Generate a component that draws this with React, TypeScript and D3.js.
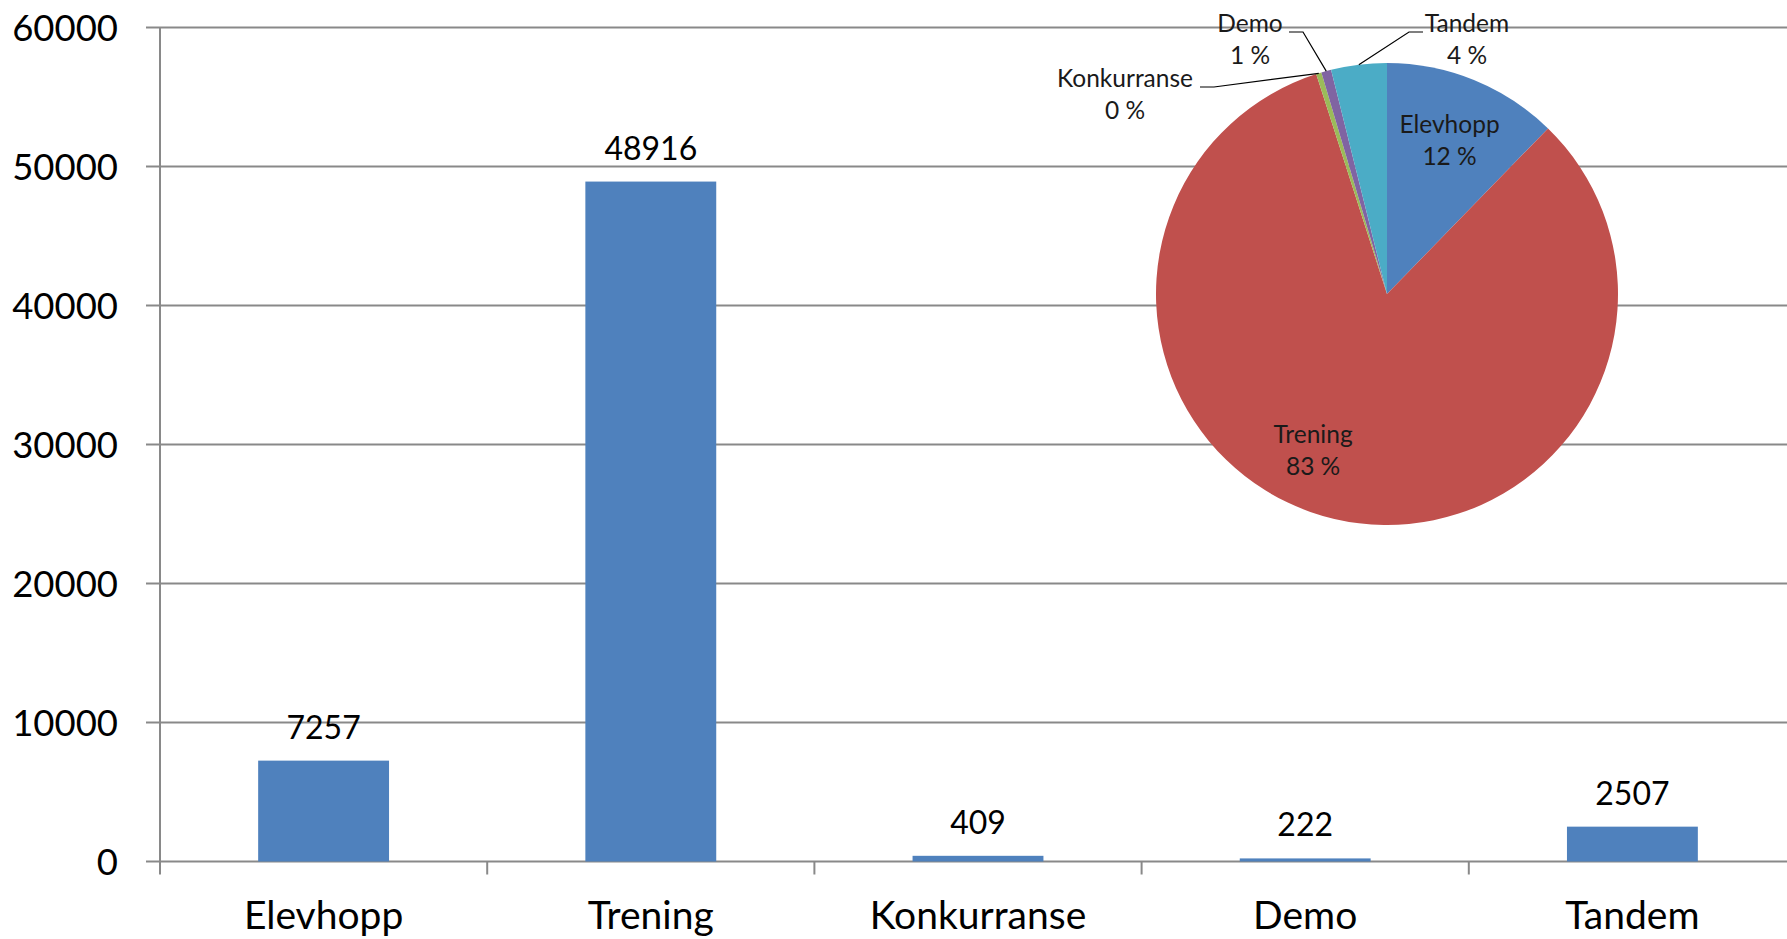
import React, { useEffect, useRef } from 'react'
import * as d3 from 'd3'

// data
const categories = ['Elevhopp', 'Trening', 'Konkurranse', 'Demo', 'Tandem']
const jumps = [7257, 48916, 409, 222, 2507]
const yTicks = [0, 10000, 20000, 30000, 40000, 50000, 60000]
const pieValues = [7257, 48916, 222, 409, 2300]
const pieColors = ['#4F81BD', '#C0504D', '#9BBB59', '#8064A2', '#4BACC6']
const outsideLabels = ['Konkurranse', 'Demo', 'Tandem']

const W = 1787
const H = 939
const FONT = 'Lato, "Open Sans", sans-serif'

const App = () => {
  const ref = useRef<SVGSVGElement | null>(null)

  useEffect(() => {
    document.body.style.margin = '0'
    const svg = d3.select(ref.current)
    svg.selectAll('*').remove()

    const left = 160
    const right = 1796 // plot area runs a little past the window
    const top = 27.5
    const bottom = 861.5

    const x = d3.scaleBand<string>().domain(categories).range([left, right]).paddingInner(0).paddingOuter(0)
    const y = d3.scaleLinear().domain([0, 60000]).range([bottom, top])
    const barW = x.bandwidth() * 0.4

    // gridlines
    svg.append('g')
      .selectAll('line')
      .data(yTicks)
      .join('line')
      .attr('x1', left - 14)
      .attr('x2', W)
      .attr('y1', (d) => y(d))
      .attr('y2', (d) => y(d))
      .attr('stroke', '#898989')
      .attr('stroke-width', 2)

    // y tick labels
    svg.append('g')
      .selectAll('text')
      .data(yTicks)
      .join('text')
      .attr('x', 118)
      .attr('y', (d) => y(d) + 13)
      .attr('text-anchor', 'end')
      .attr('font-family', FONT)
      .attr('font-size', 36.5)
      .attr('fill', '#000')
      .text((d) => d)

    // y axis line + category ticks
    svg.append('line')
      .attr('x1', left).attr('x2', left)
      .attr('y1', top).attr('y2', bottom + 13)
      .attr('stroke', '#898989').attr('stroke-width', 2)

    const bounds = categories.map((c) => x(c) as number)
    svg.append('g')
      .selectAll('line')
      .data(bounds.slice(1))
      .join('line')
      .attr('x1', (d) => d).attr('x2', (d) => d)
      .attr('y1', bottom).attr('y2', bottom + 13)
      .attr('stroke', '#898989').attr('stroke-width', 2)

    // bars
    svg.append('g')
      .selectAll('rect')
      .data(jumps)
      .join('rect')
      .attr('x', (d, i) => (x(categories[i]) as number) + (x.bandwidth() - barW) / 2)
      .attr('y', (d) => y(d))
      .attr('width', barW)
      .attr('height', (d) => bottom - y(d))
      .attr('fill', '#4F81BD')

    // value labels
    svg.append('g')
      .selectAll('text')
      .data(jumps)
      .join('text')
      .attr('x', (d, i) => (x(categories[i]) as number) + x.bandwidth() / 2)
      .attr('y', (d) => y(d) - 22)
      .attr('text-anchor', 'middle')
      .attr('font-family', FONT)
      .attr('font-size', 32)
      .attr('fill', '#000')
      .text((d) => d)

    // category labels
    svg.append('g')
      .selectAll('text')
      .data(categories)
      .join('text')
      .attr('x', (d) => (x(d) as number) + x.bandwidth() / 2)
      .attr('y', 929)
      .attr('text-anchor', 'middle')
      .attr('font-family', FONT)
      .attr('font-size', 39)
      .attr('fill', '#000')
      .text((d) => d)

    // pie
    const cx = 1387
    const cy = 294
    const r = 231
    const total = d3.sum(pieValues)
    const arcs = d3.pie<number>().sort(null).value((d) => d)(pieValues)
    const arc = d3.arc<d3.PieArcDatum<number>>().innerRadius(0).outerRadius(r)
    const labelArc = d3.arc<d3.PieArcDatum<number>>().innerRadius(r * 0.72).outerRadius(r * 0.72)
    const edgeArc = d3.arc<d3.PieArcDatum<number>>().innerRadius(r).outerRadius(r)

    const pie = svg.append('g').attr('transform', `translate(${cx},${cy})`)
    pie.selectAll('path')
      .data(arcs)
      .join('path')
      .attr('d', arc)
      .attr('fill', (d, i) => pieColors[i])

    const pct = (v: number) => `${Math.round((v / total) * 100)} %`

    // inside labels
    const nudge: Record<string, [number, number]> = { Trening: [-36, -6] }
    arcs.forEach((a, i) => {
      const name = categories[i]
      if (outsideLabels.includes(name)) return
      const [lx, ly] = labelArc.centroid(a)
      const [nx, ny] = nudge[name] || [0, 0]
      const t = pie.append('text')
        .attr('text-anchor', 'middle')
        .attr('font-family', FONT)
        .attr('font-size', 24.5)
        .attr('fill', '#1a1a1a')
      t.append('tspan').attr('x', lx + nx).attr('y', ly + ny - 7).text(name)
      t.append('tspan').attr('x', lx + nx).attr('y', ly + ny + 25).text(pct(pieValues[i]))
    })

    // outside labels with leader lines (text centre / elbow, relative to pie centre)
    const outsidePos: Record<string, { tx: number; ty: number; ex: number; ey: number }> = {
      Konkurranse: { tx: -262, ty: -207, ex: -187, ey: -207 },
      Demo: { tx: -137, ty: -262, ex: -98, ey: -262 },
      Tandem: { tx: 80, ty: -262, ex: 36, ey: -262 },
    }
    arcs.forEach((a, i) => {
      const name = categories[i]
      if (!outsideLabels.includes(name)) return
      const p = outsidePos[name]
      const [px, py] = edgeArc.centroid(a)
      const sx = p.ex < p.tx ? p.ex - 14 : p.ex + 14
      pie.append('polyline')
        .attr('points', `${p.ex},${p.ey} ${sx},${p.ey} ${px},${py}`)
        .attr('fill', 'none')
        .attr('stroke', '#000')
        .attr('stroke-width', 1.2)
      const t = pie.append('text')
        .attr('text-anchor', 'middle')
        .attr('font-family', FONT)
        .attr('font-size', 24.5)
        .attr('fill', '#1a1a1a')
      t.append('tspan').attr('x', p.tx).attr('y', p.ty).text(name)
      t.append('tspan').attr('x', p.tx).attr('y', p.ty + 32).text(pct(pieValues[i]))
    })
  }, [])

  return (
    <svg
      ref={ref}
      width={W}
      height={H}
      style={{ display: 'block', position: 'absolute', left: 0, top: 0, background: '#fff' }}
    />
  )
}

export default App
